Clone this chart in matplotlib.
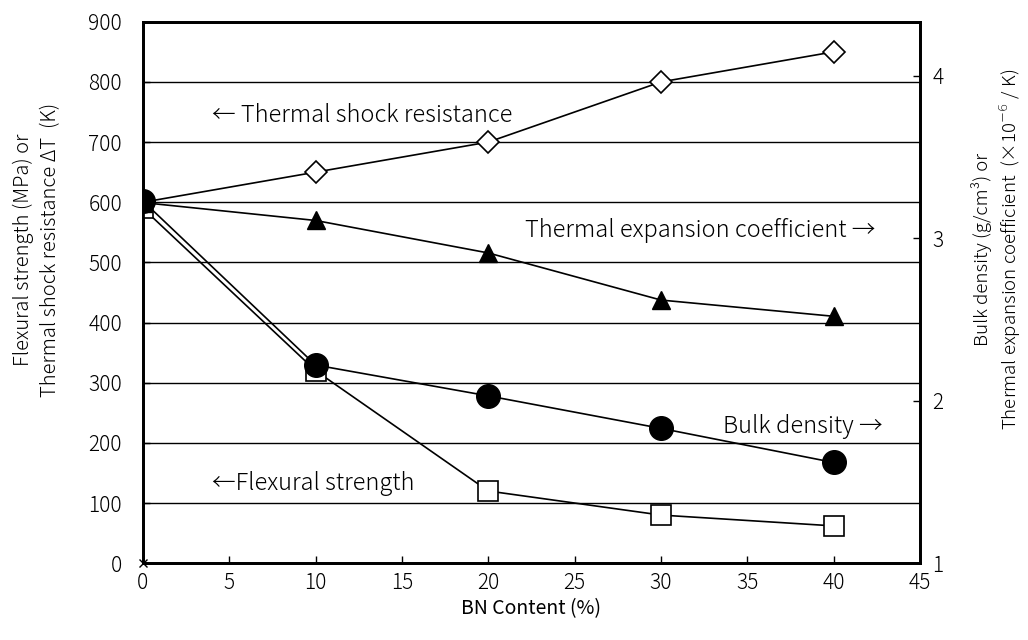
import matplotlib.pyplot as plt

plt.rcParams['font.family'] = ['Noto Sans CJK JP', 'DejaVu Sans']
plt.rcParams['font.weight'] = 'light'
plt.rcParams['mathtext.fontset'] = 'dejavusans'

# --- Data ---
bn = [0, 10, 20, 30, 40]
shock_resistance = [600, 650, 700, 800, 850]        # left axis (K)
flexural_strength = [590, 320, 120, 80, 62]         # left axis (MPa)
bulk_density = [3.23, 2.22, 2.03, 1.83, 1.62]       # right axis (g/cm3)
thermal_expansion = [3.22, 3.11, 2.91, 2.62, 2.52]  # right axis (x10^-6/K)

fig = plt.figure(figsize=(10.28, 6.4), dpi=100)
ax = fig.add_axes([0.139, 0.120, 0.756, 0.846])
ax2 = ax.twinx()

ax.set_xlim(0, 45)
ax.set_ylim(0, 900)
ax2.set_ylim(1, 1 + 900 / 270)

for y in range(100, 900, 100):
    ax.axhline(y, color='black', lw=1.0, zorder=1)

ax.plot(bn, shock_resistance, color='black', lw=1.2, marker='D', ms=11,
        mfc='white', mec='black', mew=1.2, zorder=3)
ax.plot(bn, flexural_strength, color='black', lw=1.2, marker='s', ms=14,
        mfc='white', mec='black', mew=1.2, zorder=3)
ax2.plot(bn, thermal_expansion, color='black', lw=1.2, marker='^', ms=13,
         mfc='black', mec='black', zorder=3)
ax2.plot(bn, bulk_density, color='black', lw=1.2, marker='o', ms=17,
         mfc='black', mec='black', zorder=4)
ax.plot([0], [0], marker='x', color='black', ms=6, mew=1, clip_on=False, zorder=5)

ax.set_xticks(range(0, 46, 5))
ax.set_yticks(range(0, 901, 100))
ax2.set_yticks([1, 2, 3, 4])

ax.tick_params(axis='both', direction='in', labelsize=15, length=5, width=1)
ax.tick_params(axis='y', pad=15)
ax.tick_params(axis='x', pad=6)
ax2.tick_params(axis='y', direction='in', labelsize=15, length=5, width=1, pad=9)
for a in (ax, ax2):
    for s in a.spines.values():
        s.set_linewidth(2)

txt = dict(fontsize=17, color='black')
ax.text(4.0, 745, '← Thermal shock resistance', ha='left', va='center', **txt)
ax.text(42.4, 553, 'Thermal expansion coefficient →', ha='right', va='center', **txt)
ax.text(42.85, 227, 'Bulk density →', ha='right', va='center', **txt)
ax.text(4.0, 132, '←Flexural strength', ha='left', va='center', **txt)

ax.set_xlabel('BN Content (%)', fontsize=14, labelpad=3)
fig.text(0.036, 0.61, 'Flexural strength (MPa) or\nThermal shock resistance ΔT  (K)',
         rotation=90, ha='center', va='center', multialignment='center',
         fontsize=14.5, linespacing=1.35)
fig.text(0.970, 0.61, 'Bulk density (g/cm³) or\nThermal expansion coefficient  (×10$^{-6}$ / K)',
         rotation=90, ha='center', va='center', multialignment='center',
         fontsize=13.5, linespacing=1.3)

fig.savefig('out.png', dpi=100)
